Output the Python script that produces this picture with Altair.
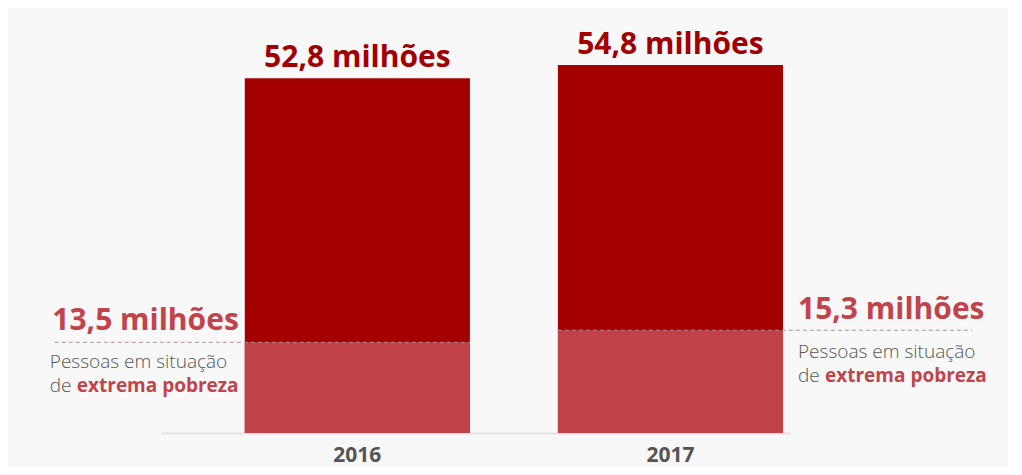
import altair as alt
import pandas as pd

years = ["2016", "2017"]
total = [52.8, 54.8]
extreme = [13.5, 15.3]
total_labels = ["52,8 milhões", "54,8 milhões"]
extreme_labels = ["13,5 milhões", "15,3 milhões"]
desc_line1 = "Pessoas em situação"
desc_de = "de"
desc_bold = "extrema pobreza"

df = pd.DataFrame({
    "year": years,
    "total": total,
    "extreme": extreme,
    "total_label": total_labels,
    "extreme_label": extreme_labels,
    "l1": [desc_line1] * 2,
    "de": [desc_de] * 2,
    "bold": [desc_bold] * 2,
})

DARK = "#a50000"
LIGHT = "#c14148"
LABEL_LIGHT = "#c1444b"
GRAY = "#555555"
FONT = "Open Sans"

xscale = alt.Scale(paddingInner=0.281, paddingOuter=0.145, align=0.923)
yscale = alt.Scale(domain=[0, 60])

base = alt.Chart(df)
X = alt.X("year:N", scale=xscale, sort=years,
          axis=alt.Axis(title=None, ticks=False, labelAngle=0, labelFont=FONT,
                        labelFontSize=21, labelFontWeight="bold", labelColor=GRAY,
                        labelPadding=11, domainColor="#e2e2e2", domainWidth=2))

bars_total = base.mark_bar(color=DARK).encode(x=X, y=alt.Y("total:Q", scale=yscale, axis=None))
bars_ext = base.mark_bar(color=LIGHT).encode(x=alt.X("year:N", sort=years), y=alt.Y("extreme:Q"))

top_labels = base.mark_text(font=FONT, fontSize=30, fontWeight="bold", color="#a20000",
                            baseline="alphabetic", dy=-11).encode(
    x=alt.X("year:N", sort=years), y="total:Q", text="total_label:N")

left = base.transform_filter(alt.datum.year == "2016")
right = base.transform_filter(alt.datum.year == "2017")

rule_l = left.mark_rule(color="#aa9090", strokeDash=[4, 3], strokeWidth=1, xOffset=-190).encode(
    x=alt.X("year:N", sort=years, bandPosition=0),
    x2=alt.X2("year:N", bandPosition=1),
    y="extreme:Q")
rule_r = right.mark_rule(color="#aa9090", strokeDash=[4, 3], strokeWidth=1, x2Offset=189).encode(
    x=alt.X("year:N", sort=years, bandPosition=0),
    x2=alt.X2("year:N", bandPosition=1),
    y="extreme:Q")

ext_l = left.mark_text(font=FONT, fontSize=30, fontWeight="bold", color=LABEL_LIGHT,
                       align="right", baseline="alphabetic", dx=-6, dy=-12).encode(
    x=alt.X("year:N", sort=years, bandPosition=0), y="extreme:Q", text="extreme_label:N")
ext_r = right.mark_text(font=FONT, fontSize=30, fontWeight="bold", color=LABEL_LIGHT,
                        align="left", baseline="alphabetic", dx=15, dy=-11).encode(
    x=alt.X("year:N", sort=years, bandPosition=1), y="extreme:Q", text="extreme_label:N")

def desc(src, bandpos, dx, dy):
    l1 = src.mark_text(font=FONT, fontSize=19, fontWeight=300, color=GRAY, align="left",
                       baseline="alphabetic", dx=dx, dy=dy).encode(
        x=alt.X("year:N", sort=years, bandPosition=bandpos), y="extreme:Q", text="l1:N")
    de = src.mark_text(font=FONT, fontSize=19, fontWeight=300, color=GRAY, align="left",
                       baseline="alphabetic", dx=dx, dy=dy + 24).encode(
        x=alt.X("year:N", sort=years, bandPosition=bandpos), y="extreme:Q", text="de:N")
    bold = src.mark_text(font=FONT, fontSize=19, fontWeight="bold", color=LABEL_LIGHT, align="left",
                         baseline="alphabetic", dx=dx + 27, dy=dy + 24).encode(
        x=alt.X("year:N", sort=years, bandPosition=bandpos), y="extreme:Q", text="bold:N")
    return [l1, de, bold]

layers = [bars_total, bars_ext, rule_l, rule_r, top_labels, ext_l, ext_r]
layers += desc(left, 0, -195, 26)
layers += desc(right, 1, 15, 28)

chart = alt.layer(*layers).properties(
    width=629, height=403,
    padding={"left": 153, "top": 22, "right": 218, "bottom": 34},
    autosize=alt.AutoSizeParams(type="none"),
    background="#f8f8f8",
).configure_view(stroke=None).configure_axis(grid=False)

chart.save("out.html", embed_options={"renderer": "svg", "actions": False})
